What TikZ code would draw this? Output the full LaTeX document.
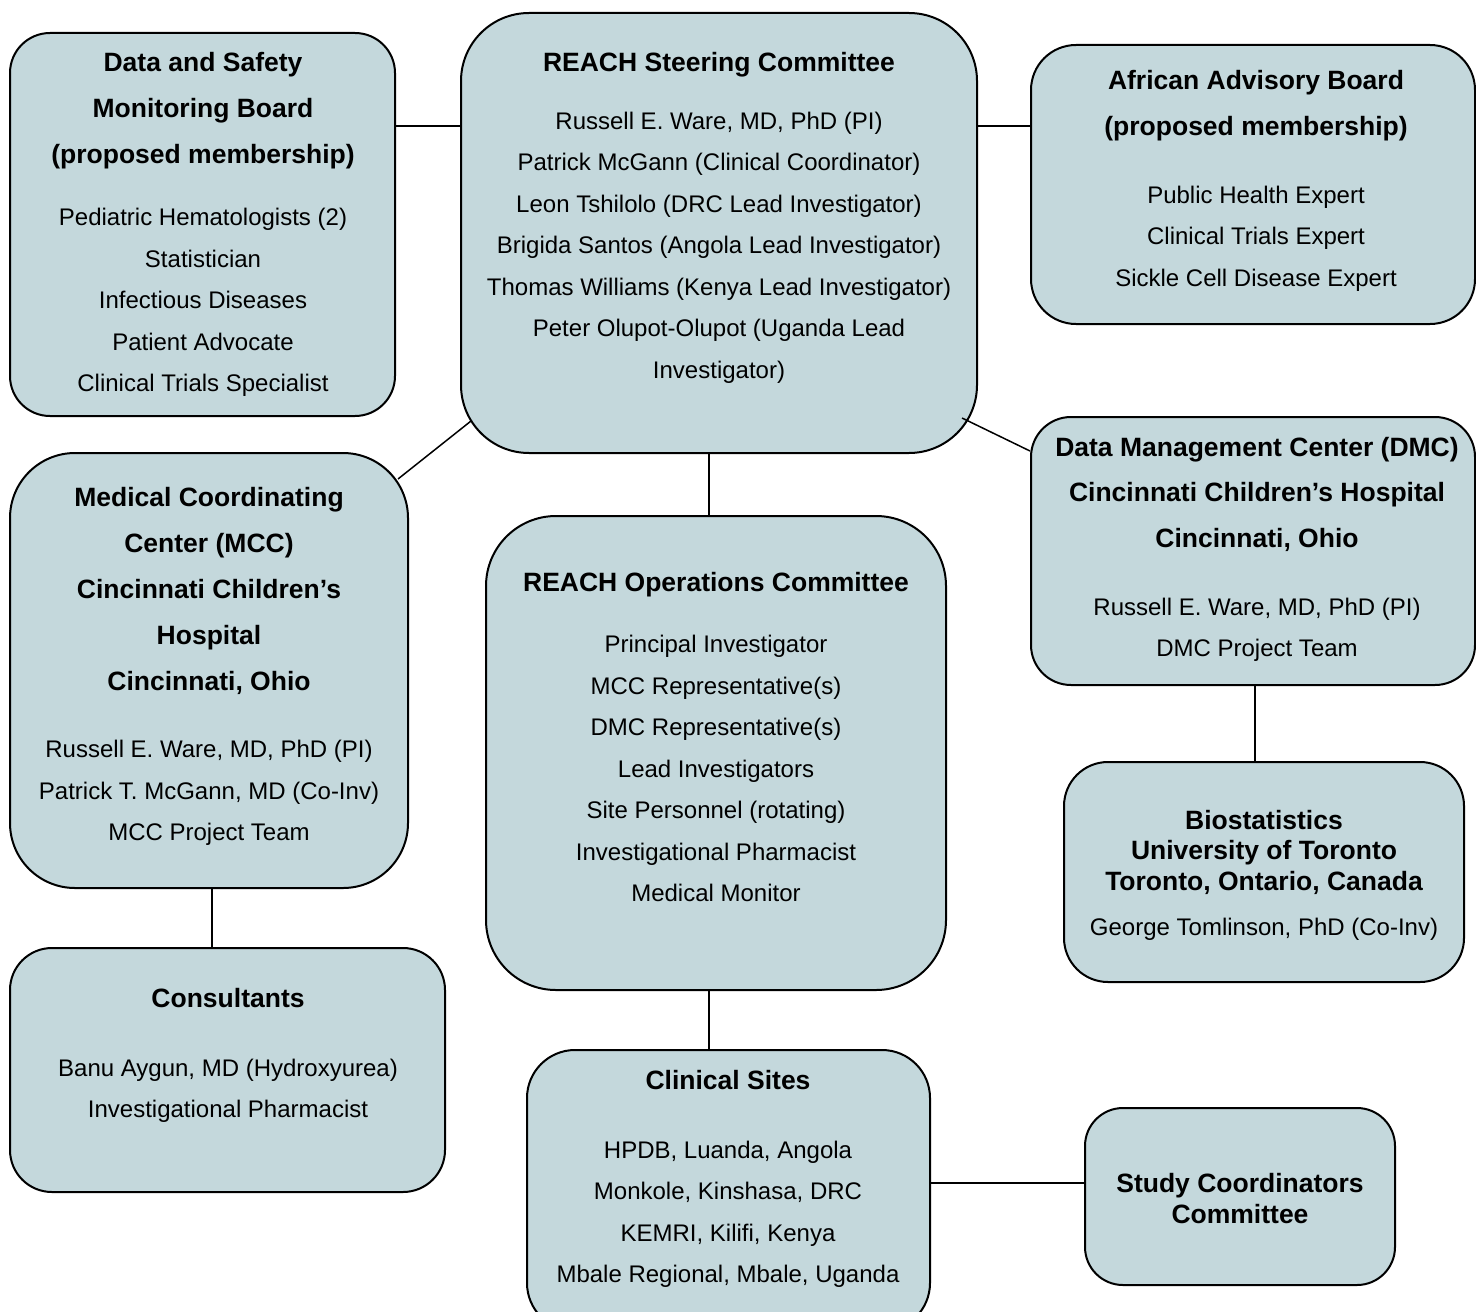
\documentclass[tikz,border=0pt]{standalone}
\usepackage{fontspec}
\setmainfont{Liberation Sans}
\usepackage{tikz}
\usetikzlibrary{calc}

\definecolor{boxfill}{RGB}{196,216,220}
\newcommand{\boxtitle}[1]{{\fontsize{13.25}{15}\selectfont\bfseries #1}}
\tikzset{
  panel/.style={draw, line width=1pt, fill=boxfill},
  btext/.style={align=center, inner sep=0pt, font=\fontsize{12}{20.75}\selectfont},
  link/.style={draw, line width=0.75pt}
}

\begin{document}
\begin{tikzpicture}[x=0.5pt,y=-0.5pt]
    \useasboundingbox (0,0) rectangle (1476,1311);
    % boxes
    \node[panel, minimum width=192.5pt, minimum height=191.5pt, rounded corners=20pt] (DSMB) at (202.5,224.5) {};
    \node[panel, minimum width=258pt, minimum height=220pt, rounded corners=34pt] (RSC) at (719,233) {};
    \node[panel, minimum width=222pt, minimum height=139.5pt, rounded corners=22.5pt] (AAB) at (1253,184.5) {};
    \node[panel, minimum width=199pt, minimum height=217.5pt, rounded corners=32.5pt] (MCC) at (209,670.5) {};
    \node[panel, minimum width=230pt, minimum height=237pt, rounded corners=35pt] (ROC) at (716,753) {};
    \node[panel, minimum width=222pt, minimum height=134pt, rounded corners=20pt] (DMC) at (1253,551) {};
    \node[panel, minimum width=200pt, minimum height=110pt, rounded corners=22pt] (BIO) at (1264,872) {};
    \node[panel, minimum width=217.5pt, minimum height=122pt, rounded corners=21pt] (CON) at (227.5,1070) {};
    \node[panel, minimum width=201.5pt, minimum height=140.5pt, rounded corners=24pt] (CS) at (728.5,1190.5) {};
    \node[panel, minimum width=155pt, minimum height=88.5pt, rounded corners=19pt] (SCC) at (1240,1196.5) {};

    % texts
    \node[btext] (DSMB-t) at (203,224.5) {\boxtitle{Data and Safety}\\[2.25pt]
      \boxtitle{Monitoring Board}\\[2.25pt]\boxtitle{(proposed membership)}\\[10.25pt]
      Pediatric Hematologists (2)\\Statistician\\Infectious Diseases\\
      Patient Advocate\\Clinical Trials Specialist};
    \node[btext] (RSC-t) at (719,217.5) {\boxtitle{REACH Steering Committee}\\[8.25pt]
      Russell E. Ware, MD, PhD (PI)\\Patrick McGann (Clinical Coordinator)\\
      Leon Tshilolo (DRC Lead Investigator)\\Brigida Santos (Angola Lead Investigator)\\
      Thomas Williams (Kenya Lead Investigator)\\Peter Olupot-Olupot (Uganda Lead\\
      Investigator)};
    \node[btext] (AAB-t) at (1256,180.5) {\boxtitle{African Advisory Board}\\[2.25pt]
      \boxtitle{(proposed membership)}\\[13.25pt]
      Public Health Expert\\Clinical Trials Expert\\Sickle Cell Disease Expert};
    \node[btext] (MCC-t) at (209,666.5) {\boxtitle{Medical Coordinating}\\[2.25pt]
      \boxtitle{Center (MCC)}\\[2.25pt]\boxtitle{Cincinnati Children’s}\\[2.25pt]
      \boxtitle{Hospital}\\[2.25pt]\boxtitle{Cincinnati, Ohio}\\[12.75pt]
      Russell E. Ware, MD, PhD (PI)\\Patrick T. McGann, MD (Co-Inv)\\MCC Project Team};
    \node[btext] (ROC-t) at (716,737.5) {\boxtitle{REACH Operations Committee}\\[9.75pt]
      Principal Investigator\\MCC Representative(s)\\DMC Representative(s)\\
      Lead Investigators\\Site Personnel (rotating)\\Investigational Pharmacist\\
      Medical Monitor};
    \node[btext] (DMC-t) at (1257,549.5) {\boxtitle{Data Management Center (DMC)}\\[2pt]
      \boxtitle{Cincinnati Children’s Hospital}\\[2pt]\boxtitle{Cincinnati, Ohio}\\[13.25pt]
      Russell E. Ware, MD, PhD (PI)\\DMC Project Team};
    \node[btext] (BIO-t) at (1264,875) {\boxtitle{Biostatistics}\\[-5.5pt]
      \boxtitle{University of Toronto}\\[-5.5pt]\boxtitle{Toronto, Ontario, Canada}\\[1.75pt]
      George Tomlinson, PhD (Co-Inv)};
    \node[btext] (CON-t) at (228,1055.5) {\boxtitle{Consultants}\\[13.75pt]
      Banu Aygun, MD (Hydroxyurea)\\Investigational Pharmacist};
    \node[btext] (CS-t) at (728,1179) {\boxtitle{Clinical Sites}\\[13.75pt]
      HPDB, Luanda, Angola\\Monkole, Kinshasa, DRC\\KEMRI, Kilifi, Kenya\\
      Mbale Regional, Mbale, Uganda};
    \node[btext] (SCC-t) at (1240,1198.5) {\boxtitle{Study Coordinators}\\[-5.25pt]
      \boxtitle{Committee}};

    % connectors
    \coordinate (c1) at ([yshift=49.25pt]DSMB.east);
    \coordinate (c2) at ([yshift=29.25pt]AAB.west);
    \coordinate (c3) at ([xshift=-5pt]RSC.south);
    \coordinate (c4) at ([xshift=-3.5pt]ROC.south);
    \coordinate (c5) at ([xshift=1.5pt]MCC.south);
    \coordinate (c6) at ([xshift=1pt]DMC.south);
    \coordinate (c7) at ([yshift=6.75pt]SCC.west);
    \path[link]
      (c1) edge (c1 -| RSC.west)
      (c2) edge (c2 -| RSC.east)
      ([shift={(11,-33)}]RSC.south west) edge ([shift={(-11,27)}]MCC.north east)
      ([shift={(-16,-36)}]RSC.south east) edge ([shift={(0,35)}]DMC.north west)
      (c3) edge (c3 |- ROC.north)
      (c4) edge (c4 |- CS.north)
      (c5) edge (c5 |- CON.north)
      (c6) edge (c6 |- BIO.north)
      (c7) edge (c7 -| CS.east);
\end{tikzpicture}
\end{document}
